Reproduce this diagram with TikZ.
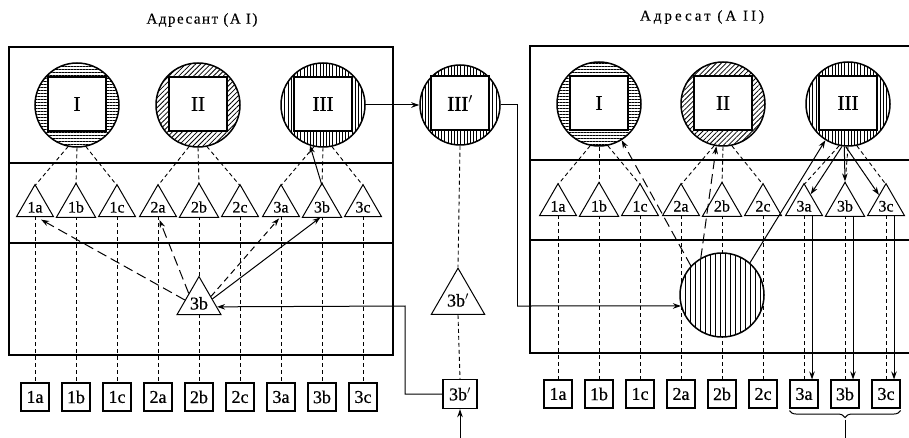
\documentclass[tikz,border=0pt]{standalone}
\usepackage{fontspec}
\setmainfont{Liberation Serif}
\newfontfamily\lblfont[FakeBold=0.6]{Liberation Serif}
\newfontfamily\titlefont[LetterSpace=10,FakeBold=0.4]{Liberation Serif}
\newfontfamily\titlefontB[LetterSpace=20,FakeBold=0.4]{Liberation Serif}
\usetikzlibrary{arrows.meta,patterns,patterns.meta,shapes.geometric,decorations.pathreplacing}
\begin{document}
\begin{tikzpicture}[x=1pt,y=-1pt,
  frame/.style={line width=1.1pt},
  ring/.style={circle, draw, line width=1.5pt, minimum size=84pt, inner sep=0pt, preaction={fill=white}},
  hz/.style={pattern={Lines[angle=0,distance=3pt,line width=0.8pt]}},
  vt/.style={pattern={Lines[angle=90,distance=3.2pt,line width=0.8pt]}},
  dg/.style={pattern={Lines[angle=45,distance=3.5pt,line width=0.8pt]}},
  sq/.style={draw, fill=white, line width=1.3pt, minimum width=58pt, minimum height=54pt, inner sep=0pt, font=\lblfont\fontsize{21}{21}\selectfont},
  tri/.style={regular polygon, regular polygon sides=3, draw, fill=white, line width=1pt, minimum size=38.8pt, inner sep=0pt, text height=13pt, text depth=0pt, font=\lblfont\fontsize{16}{16}\selectfont},
  box/.style={draw, line width=1.1pt, minimum size=28pt, inner sep=0pt, font=\lblfont\fontsize{18}{18}\selectfont},
  dsh/.style={dash pattern=on 4pt off 3pt, line width=0.9pt},
  arr/.style={line width=1pt, -{Stealth[length=8pt,width=5.5pt]}},
  ldsh/.style={arr, dash pattern=on 10pt off 5pt},
  sdsh/.style={arr, dash pattern=on 6pt off 4pt},
  title/.style={font=\titlefont\fontsize{15}{15}\selectfont},
  titleB/.style={font=\titlefontB\fontsize{15}{15}\selectfont}
]
\useasboundingbox (0,0) rectangle (909,438);

% titles
\node[title] (tl) at (202,20) {Адресант (А I)};
\node[titleB] (tr) at (702,17) {Адресат (А II)};

% frames
\draw[frame] (9,47) rectangle (393,355);
\draw[frame] (9,163) -- (393,163);
\draw[frame] (9,243) -- (393,243);
\draw[frame] (909,46) -- (530,46) -- (530,353) -- (909,353);
\draw[frame] (530,160) -- (909,160);
\draw[frame] (530,240) -- (909,240);

% left triangles and boxes
\foreach \lab [count=\i from 0] in {1a,1b,1c,2a,2b,2c,3a,3b,3c} {
  \node[box] (lb\lab) at (35+41*\i,397) {\lab};
  \node[tri] (lt\lab) at (35+41*\i,206) {};
  \draw[dsh] (lt\lab.side 2) -- (lb\lab.north);
}
% right triangles and boxes
\foreach \lab [count=\i from 0] in {1a,1b,1c,2a,2b,2c,3a,3b,3c} {
  \node[box] (rb\lab) at (558+41*\i,394) {\lab};
  \node[tri] (rt\lab) at (558+41*\i,205) {};
  \draw[dsh] (rt\lab.side 2) -- (rb\lab.north);
}

% left circles
\node[ring, hz] (lcI) at (77,105) {};
\node[sq] (lsI) at (77,104) {I};
\node[ring, dg] (lcII) at (198,105) {};
\node[sq] (lsII) at (198,104) {II};
\node[ring, vt] (lcIII) at (323,105) {};
\node[sq] (lsIII) at (323,104) {III};
\node[ring, vt, minimum size=80pt] (cP) at (460,105) {};
\node[sq] (sP) at (460,103) {III$'$};

% right circles
\node[ring, hz] (rcI) at (599,104) {};
\node[sq] (rsI) at (599,103) {I};
\node[ring, dg] (rcII) at (723,104) {};
\node[sq] (rsII) at (723,103) {II};
\node[ring, vt] (rcIII) at (848,104) {};
\node[sq] (rsIII) at (848,103) {III};

% fans
\foreach \c/\a/\b/\d in {lcI/lt1a/lt1b/lt1c, lcII/lt2a/lt2b/lt2c, lcIII/lt3a/lt3b/lt3c,
                         rcI/rt1a/rt1b/rt1c, rcII/rt2a/rt2b/rt2c, rcIII/rt3a/rt3b/rt3c} {
  \draw[dsh] (\c.258) -- (\a.corner 1);
  \draw[dsh] (\c.270) -- (\b.corner 1);
  \draw[dsh] (\c.282) -- (\d.corner 1);
}

% triangle labels (drawn on top)
\foreach \lab in {1a,1b,1c,2a,2b,2c,3a,3b,3c} {
  \node[tri] (ltl\lab) at (lt\lab) {\lab};
  \node[tri] (rtl\lab) at (rt\lab) {\lab};
}

% middle column
\node[tri, minimum size=46.6pt, text height=15pt, font=\lblfont\fontsize{18}{18}\selectfont] (T3bp) at (458,299) {3b$'$};
\node[box, minimum width=34pt, minimum height=29pt, line width=1.4pt] (B3bp) at (460,394) {3b$'$};
\draw[dsh] (cP.south) -- (T3bp.corner 1);
\draw[dsh] (T3bp.side 2) -- (B3bp.north);
\coordinate (inB) at (460,438);
\draw[arr] (inB) -- (B3bp.south);

% left big triangle 3b
\node[tri, minimum size=46.6pt, text height=15pt, font=\lblfont\fontsize{18}{18}\selectfont] (T3b) at (199,302) {3b};
\draw[ldsh, shorten >=7pt] (T3b.172) -- (lt1a.side 2);
\draw[ldsh, shorten >=4pt] (T3b.140) -- (lt2a.side 2);
\draw[sdsh, shorten >=3pt] (T3b.25) -- (lt3a.side 2);
\draw[arr, shorten >=2pt] (T3b.13) -- (lt3b.side 2);
\draw[arr] (lt3b.corner 1) -- (lcIII.252);
\draw[arr] (lcIII.east) -- (cP.west);

% 3b' box back to big triangle
\coordinate (j1) at (405,306);
\draw[arr] (B3bp.west) -| (j1) -- (T3b.-15);

% III' to right big circle
\coordinate (j2) at (517,306);
\node[circle, draw, line width=1.5pt, minimum size=84pt, inner sep=0pt, preaction={fill=white}, pattern={Lines[angle=90,distance=5pt,line width=0.9pt]}] (BC) at (722,295) {};
\draw[line width=1pt] (cP.east) -| (j2);
\draw[arr] (j2) -- (BC.195);

% right arrows from big circle
\draw[ldsh] (BC.137) -- (rcI.-58);
\draw[ldsh] (BC.120) -- (rcII.-99);
\draw[arr] (BC.49) -- (rcIII.-122);

% from III to 3a,3b,3c
\draw[arr] (rcIII.-98) -- (rtl3a.58);
\draw[arr] (rcIII.-95) -- (rtl3b.corner 1);
\draw[arr] (rcIII.-93) -- (rtl3c.125);

% triangles to boxes solid
\foreach \lab in {3a,3b,3c} {
  \draw[arr] ([xshift=8pt]rtl\lab.side 2) -- ([xshift=8pt]rb\lab.north);
}

% brace
\draw[decorate, decoration={brace, mirror, amplitude=7pt}, line width=1pt]
  ([yshift=-2pt]rb3a.south west) -- ([yshift=-2pt]rb3c.south east);
\coordinate (brtip) at ([yshift=-11pt]rb3b.south);
\coordinate (brend) at (848,438);
\draw[line width=1pt] (brtip) -- (brtip |- brend);
\end{tikzpicture}
\end{document}
